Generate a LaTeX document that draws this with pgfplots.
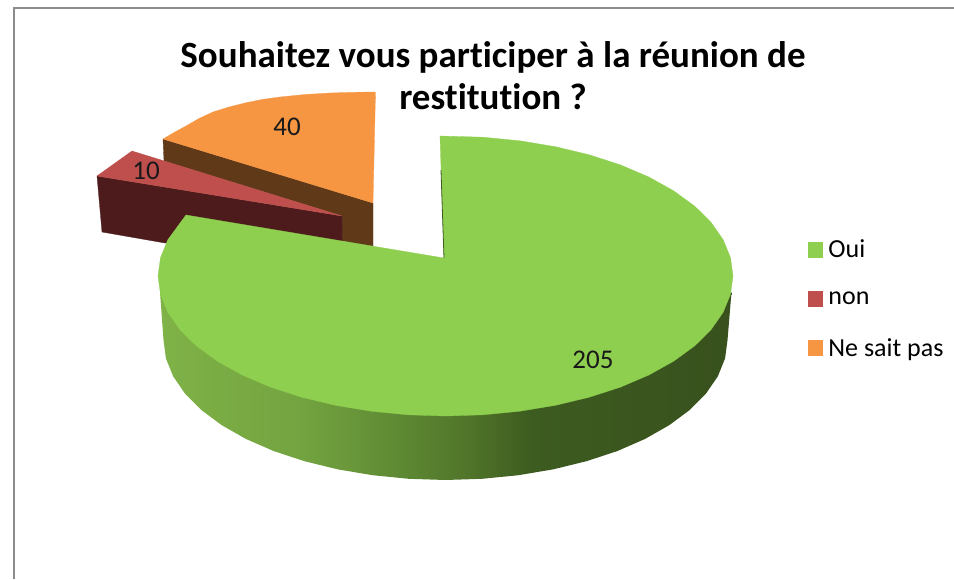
\documentclass[border=0pt]{standalone}
\usepackage{pgfplots}
\pgfplotsset{compat=1.18}
\usepackage{fontspec}
\setmainfont[Ligatures=NoCommon]{Carlito}
\definecolor{gtop}{HTML}{8FCF50}
\definecolor{rtop}{HTML}{BE4F4C}
\definecolor{otop}{HTML}{F69642}
\definecolor{rside}{HTML}{4D1B1B}
\definecolor{oside}{HTML}{603A18}
\definecolor{framec}{HTML}{8C8C8C}
\definecolor{gs1}{HTML}{7FB247}
\definecolor{gs2}{HTML}{73A340}
\definecolor{gs3}{HTML}{5F8B34}
\definecolor{gs4}{HTML}{507429}
\definecolor{gs5}{HTML}{3D5C20}
\definecolor{gs6}{HTML}{38511D}
\pgfdeclarehorizontalshading{greenside}{100bp}{color(0bp)=(gs1); color(25bp)=(gs1); color(37.5bp)=(gs2); color(45.5bp)=(gs3); color(52bp)=(gs4); color(57.5bp)=(gs5); color(75bp)=(gs6); color(100bp)=(gs6)}
\begin{document}
\begin{tikzpicture}
\useasboundingbox (0,0) rectangle (954pt,579pt);
\begin{axis}[
  at={(0,0)}, anchor=south west,
  width=954pt, height=579pt, scale only axis,
  xmin=0, xmax=954, ymin=0, ymax=579, y dir=reverse,
  hide axis, clip=false,
  legend cell align=left,
  legend style={at={(axis cs:807.5,240)}, anchor=north west, draw=none, fill=none,
    font=\fontsize{26}{30}\selectfont, row sep=32pt, inner sep=0pt, outer sep=0pt,
    nodes={inner xsep=6pt, inner ysep=0pt}},
  legend image code/.code={\fill[#1] (0pt,-7.2pt) rectangle (14.5pt,7.2pt);},
]
% frame
\addplot[forget plot, framec, line width=1.8pt] coordinates {(954,8)(14,8)(14,579)};
% orange side
\addplot[forget plot, fill=oside, draw=oside, line width=.3pt] coordinates {(163,139)(373,203)(373,247)(342,241)(342,216)(164,161)} --cycle;
% orange top
\addplot[forget plot, fill=otop, draw=otop, line width=.3pt] coordinates {(163,139)(175,132)(186,126)(199,118.5)(213,112)(229,107)(245,103)(262,99.5)(280,97)(305,94.5)(330,93)(352,92.3)(375.5,92)(373,203)} --cycle;
% red side
\addplot[forget plot, fill=rside, draw=rside, line width=.3pt] coordinates {(97,176)(342,216)(342,245)(165,243)(102,232)} --cycle;
% red top
\addplot[forget plot, fill=rtop, draw=rtop, line width=.3pt] coordinates {(97,176)(132,151)(342,216)} --cycle;
% green side
\addplot[forget plot, draw=none, shading=greenside] coordinates {(160,292)(163.5,340)(165.9,358.3)(173.1,376.2)(185,393.6)(201.3,410)(221.8,425.2)(246.1,439)(273.8,451.1)(304.5,461.2)(337.6,469.3)(372.5,475.2)(408.7,478.8)(445.5,480)(482.3,478.8)(518.5,475.2)(553.4,469.3)(586.5,461.2)(617.2,451.1)(644.9,439)(669.2,425.2)(689.7,410)(706,393.6)(717.9,376.2)(725.1,358.3)(727.5,340)(731.5,292)} --cycle;
% green top
\addplot[forget plot, fill=gtop, draw=gtop, line width=.3pt] coordinates {(440,136)(483,137.2)(519.9,140.8)(555.5,146.7)(589.3,154.8)(620.5,164.9)(648.8,177)(673.6,190.8)(694.5,206)(711.1,222.4)(723.2,239.8)(730.5,257.7)(733,276)(730.5,294.3)(723.2,312.2)(711.1,329.6)(694.5,346)(673.6,361.2)(648.8,375)(620.5,387.1)(589.3,397.2)(555.5,405.3)(519.9,411.2)(483,414.8)(445.5,416)(408,414.8)(371.1,411.2)(335.5,405.3)(301.7,397.2)(270.5,387.1)(242.2,375)(217.4,361.2)(196.5,346)(179.9,329.6)(167.8,312.2)(160.5,294.3)(158,276)(160.5,257.7)(167.8,239.8)(186,215)(444,258)} --cycle;
\addplot[forget plot, gs5, line width=.8pt] coordinates {(441,170)(444,258)};
% legend
\addlegendimage{gtop}\addlegendentry{Oui}
\addlegendimage{rtop}\addlegendentry{non}
\addlegendimage{otop}\addlegendentry{Ne sait pas}
% data labels
\node[text=black!90, font=\fontsize{27}{30}\selectfont] at (axis cs:593,360) {205};
\node[text=black!90, font=\fontsize{27}{30}\selectfont] at (axis cs:287,127) {40};
\node[text=black!90, font=\fontsize{27}{30}\selectfont] at (axis cs:146,171) {10};
% title
\node[align=center, font=\fontsize{37}{42}\selectfont\bfseries, inner sep=0pt] at (axis cs:493,76) {Souhaitez vous participer à la réunion de\\restitution ?};
\end{axis}
\end{tikzpicture}
\end{document}
